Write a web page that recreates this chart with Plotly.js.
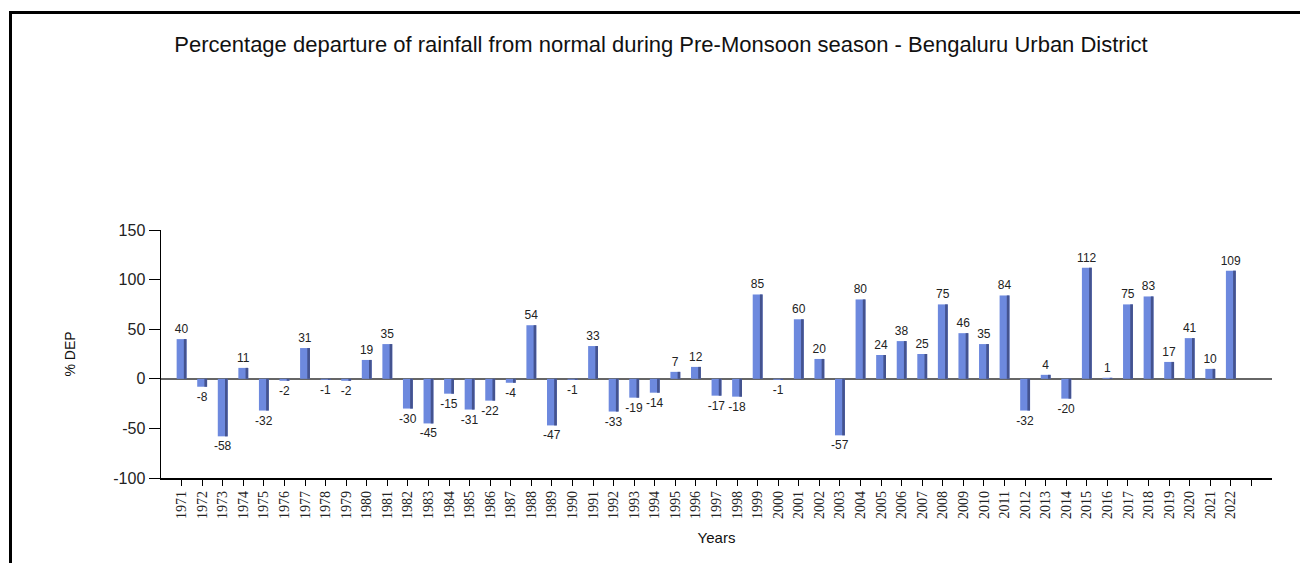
<!DOCTYPE html>
<html>
<head>
<meta charset="utf-8">
<script src="https://cdn.plot.ly/plotly-3.0.1.min.js"></script>
<style>
  html, body { margin: 0; padding: 0; background: #fff; overflow: hidden; }
  #chart { width: 1300px; height: 563px; }
  #frame { position: absolute; left: 9px; top: 11px; width: 1400px; height: 700px;
           border-left: 3px solid #000; border-top: 3px solid #000; pointer-events: none; }
</style>
</head>
<body>
<div id="chart"></div>
<div id="frame"></div>
<script>
const years = [1971,1972,1973,1974,1975,1976,1977,1978,1979,1980,
               1981,1982,1983,1984,1985,1986,1987,1988,1989,1990,
               1991,1992,1993,1994,1995,1996,1997,1998,1999,2000,
               2001,2002,2003,2004,2005,2006,2007,2008,2009,2010,
               2011,2012,2013,2014,2015,2016,2017,2018,2019,2020,
               2021,2022];
const departure = [40,-8,-58,11,-32,-2,31,-1,-2,19,
                   35,-30,-45,-15,-31,-22,-4,54,-47,-1,
                   33,-33,-19,-14,7,12,-17,-18,85,-1,
                   60,20,-57,80,24,38,25,75,46,35,
                   84,-32,4,-20,112,1,75,83,17,41,
                   10,109];
const yTicks = [-100,-50,0,50,100,150];
const yTickLabels = ['-100','-50','0','50','100','150'];
const tickYears = years.concat([2023]);
const tickLabels = years.map(String).concat(['']);

const main = {
  type: 'bar', x: years, y: departure,
  width: 0.48, offset: -0.24,
  marker: { color: '#6d89de', line: { width: 0 } },
  text: departure.map(String), textposition: 'outside', constraintext: 'none',
  cliponaxis: false,
  textfont: { family: 'Liberation Sans, Arial, sans-serif', size: 12, color: '#222' },
  hoverinfo: 'x+y'
};
const shade = {
  type: 'bar', x: years, y: departure,
  width: 0.13, offset: 0.11,
  marker: { color: '#44538f', line: { width: 0 } },
  hoverinfo: 'skip'
};

const layout = {
  width: 1300, height: 563,
  margin: { l: 161, r: 28, t: 230, b: 85 },
  paper_bgcolor: '#fff', plot_bgcolor: '#fff',
  showlegend: false, barmode: 'overlay',
  title: {
    text: 'Percentage departure of rainfall from normal during Pre-Monsoon season - Bengaluru Urban District',
    font: { family: 'Liberation Sans, Arial, sans-serif', size: 22, color: '#111' },
    x: 661/1300, xref: 'container', xanchor: 'center', y: 1 - 44/563, yref: 'container', yanchor: 'middle'
  },
  xaxis: {
    range: [1970, 2024], tickmode: 'array', tickvals: tickYears, ticktext: tickLabels,
    tickangle: -90, ticks: 'outside', ticklen: 6, tickcolor: '#000', tickwidth: 1,
    tickfont: { family: 'Liberation Serif, Times New Roman, serif', size: 14, color: '#222' },
    showline: true, linecolor: '#000', linewidth: 1.5, showgrid: false, zeroline: false,
    title: { text: 'Years', font: { family: 'Liberation Sans, Arial, sans-serif', size: 15, color: '#111' }, standoff: 14 }
  },
  yaxis: {
    range: [-100, 150], tickmode: 'array', tickvals: yTicks, ticktext: yTickLabels,
    ticks: 'outside', ticklen: 11, tickcolor: '#000', tickwidth: 1,
    tickfont: { family: 'Liberation Sans, Arial, sans-serif', size: 16, color: '#222' },
    showline: true, linecolor: '#000', linewidth: 1.5, showgrid: false,
    zeroline: true, zerolinecolor: '#666', zerolinewidth: 1.5,
    title: { text: '% DEP', font: { family: 'Liberation Sans, Arial, sans-serif', size: 14, color: '#111' }, standoff: 34 }
  }
};

Plotly.newPlot('chart', [main, shade], layout, { displayModeBar: false, staticPlot: true });
</script>
</body>
</html>
